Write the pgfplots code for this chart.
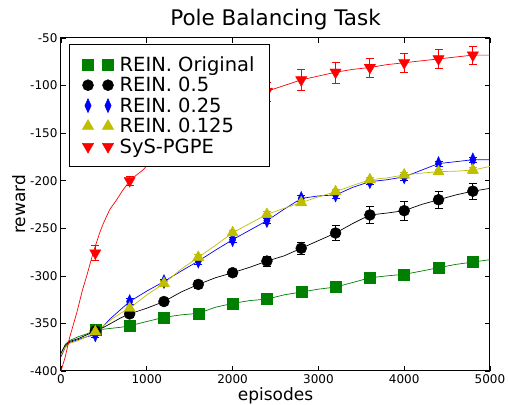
\documentclass[border=0pt]{standalone}
\usepackage{pgfplots}
\pgfplotsset{compat=1.18}
\usepackage{fontspec}
\setmainfont{DejaVu Sans}
\definecolor{mgreen}{rgb}{0,0.5,0}
\definecolor{myellow}{rgb}{0.75,0.75,0}
\begin{document}
\begin{tikzpicture}
\begin{axis}[
  scale only axis, width=429pt, height=333pt,
  xmin=0, xmax=5000, ymin=-400, ymax=-50,
  xtick={0,1000,2000,3000,4000,5000},
  ytick={-400,-350,-300,-250,-200,-150,-100,-50},
  /pgf/number format/assume math mode=true,
  /pgf/number format/1000 sep={},
  tick label style={font=\fontsize{12}{14}\selectfont},
  xlabel={episodes}, ylabel={reward},
  label style={font=\fontsize{17}{20}\selectfont},
  title={Pole Balancing Task},
  title style={font=\fontsize{21.5}{24}\selectfont, yshift=-2pt},
  tick align=inside, major tick length=5pt,
  axis line style={line width=1pt},
  every tick/.style={black, line width=0.6pt},
  xlabel style={yshift=3pt}, ylabel style={yshift=-2pt},
  legend style={at={(0.0186,0.982)}, anchor=north west, draw=black, line width=0.8pt,
    font=\fontsize{19.5}{22}\selectfont, fill=white, inner xsep=13pt, inner ysep=10pt, row sep=0.5pt,
    cells={anchor=west}},
  legend cell align=left,
  legend image code/.code={\draw[#1, line width=0.5pt] plot coordinates {(0pt,0pt) (20pt,0pt)};},
  error bars/y dir=both, error bars/y explicit,
]
% ---- green: REIN. Original
\addplot[mgreen, line width=0.7pt, forget plot] coordinates {
(0,-382)(50,-372)(100,-368)(200,-364)(300,-361)(400,-357)(500,-356)(600,-355)(700,-354)(800,-352.5)(1000,-348)(1200,-343.6)(1400,-341)(1600,-339.4)(1800,-333)(2000,-329)(2200,-326)(2400,-324.4)(2600,-320)(2800,-317)(3000,-314)(3200,-311.8)(3400,-307)(3600,-302)(3800,-300)(4000,-298.4)(4200,-295)(4400,-291.4)(4600,-288)(4800,-285.5)(5000,-283)};
\addplot[mgreen, only marks, mark=square*, mark size=5.5pt,
  error bars/error bar style={mgreen, line width=0.8pt}, error bars/error mark options={rotate=90, mark size=4pt, mgreen}]
coordinates {
(400,-357) +- (0,1.5) (800,-352.5) +- (0,1.5) (1200,-343.6) +- (0,1.5) (1600,-339.4) +- (0,1.5) (2000,-329) +- (0,1.5) (2400,-324.4) +- (0,1.5) (2800,-317) +- (0,1.5) (3200,-311.8) +- (0,1.5) (3600,-302) +- (0,1.5) (4000,-298.4) +- (0,1.5) (4400,-291.4) +- (0,1.5) (4800,-285.5) +- (0,1.5)};
\addlegendentry{\hspace{4pt}REIN. Original}
% ---- black: REIN. 0.5
\addplot[black, line width=0.7pt, forget plot] coordinates {
(0,-381)(50,-373)(100,-369)(200,-366)(300,-362)(400,-358)(500,-354)(600,-349)(700,-344)(800,-340)(1000,-334)(1200,-327)(1400,-317)(1600,-309)(1800,-302)(2000,-296.7)(2200,-291)(2400,-284.5)(2600,-279)(2800,-271)(3000,-263)(3200,-255)(3400,-245)(3600,-236)(3800,-234)(4000,-231.5)(4200,-225)(4400,-220)(4600,-215)(4800,-211)(5000,-208)};
\addplot[black, only marks, mark=*, mark size=5.5pt,
  error bars/error bar style={black, line width=0.8pt}, error bars/error mark options={rotate=90, mark size=4pt, black}]
coordinates {
(400,-358) +- (0,2) (800,-340) +- (0,3) (1200,-327) +- (0,3) (1600,-309) +- (0,4) (2000,-296.7) +- (0,4) (2400,-284.5) +- (0,5) (2800,-271) +- (0,6) (3200,-255) +- (0,8) (3600,-236) +- (0,9) (4000,-231.5) +- (0,9.5) (4400,-220) +- (0,9) (4800,-211) +- (0,8)};
\addlegendentry{\hspace{4pt}REIN. 0.5}
% ---- blue: REIN. 0.25
\addplot[blue, line width=0.7pt, forget plot] coordinates {
(0,-385)(50,-375)(100,-370)(200,-367)(300,-364)(400,-362)(500,-352)(600,-343)(700,-335)(800,-327)(1000,-316)(1200,-306)(1400,-295)(1600,-284.5)(1800,-273)(2000,-262)(2200,-252)(2400,-242)(2600,-230)(2800,-218.6)(3000,-216)(3200,-215)(3400,-207)(3600,-201)(3800,-199)(4000,-196)(4200,-189)(4400,-182)(4600,-180)(4800,-178)(5000,-178)};
\addplot[blue, only marks, mark=diamond*, mark size=7pt, mark options={xscale=0.6},
  error bars/error bar style={blue, line width=0.8pt}, error bars/error mark options={rotate=90, mark size=4pt, blue}]
coordinates {
(400,-362) +- (0,3) (800,-327) +- (0,3) (1200,-306) +- (0,3) (1600,-284.5) +- (0,3) (2000,-262) +- (0,3) (2400,-242) +- (0,3) (2800,-218.6) +- (0,3) (3200,-215) +- (0,3) (3600,-201) +- (0,3) (4000,-196) +- (0,3) (4400,-182) +- (0,3) (4800,-178) +- (0,3)};
\addlegendentry{\hspace{4pt}REIN. 0.25}
% ---- yellow: REIN. 0.125
\addplot[myellow, line width=0.7pt, forget plot] coordinates {
(0,-383)(50,-375)(100,-371)(200,-368)(300,-364)(400,-358.8)(500,-352)(600,-345)(700,-339)(800,-334)(1000,-320)(1200,-308)(1400,-293)(1600,-280.6)(1800,-268)(2000,-254.7)(2200,-245)(2400,-235.4)(2600,-229)(2800,-223)(3000,-217)(3200,-211.6)(3400,-205)(3600,-199)(3800,-197)(4000,-194)(4200,-192)(4400,-190.5)(4600,-190)(4800,-188.8)(5000,-185)};
\addplot[myellow, only marks, mark=triangle*, mark size=6.5pt,
  error bars/error bar style={myellow, line width=0.8pt}, error bars/error mark options={rotate=90, mark size=4pt, myellow}]
coordinates {
(400,-358.8) +- (0,3) (800,-334) +- (0,3) (1200,-308) +- (0,3) (1600,-280.6) +- (0,3) (2000,-254.7) +- (0,3) (2400,-235.4) +- (0,3) (2800,-223) +- (0,3) (3200,-211.6) +- (0,3) (3600,-199) +- (0,3) (4000,-194) +- (0,3) (4400,-190.5) +- (0,3) (4800,-188.8) +- (0,3)};
\addlegendentry{\hspace{4pt}REIN. 0.125}
% ---- red: SyS-PGPE
\addplot[red, line width=0.7pt, forget plot] coordinates {
(0,-400)(50,-385)(100,-365)(183,-339)(250,-315)(300,-300)(377,-275)(450,-255)(493,-245)(570,-230)(649,-220)(720,-210)(804,-200)(880,-194)(952,-189)(1200,-165)(1600,-140)(2000,-120)(2400,-106)(2600,-100)(2800,-94)(3000,-90)(3200,-86)(3400,-83)(3600,-81)(3800,-78)(4000,-76)(4200,-74)(4400,-72)(4600,-70)(4800,-68)(5000,-68)};
\addplot[red, only marks, mark=triangle*, mark size=6.5pt, mark options={rotate=180},
  error bars/error bar style={red, line width=0.8pt}, error bars/error mark options={rotate=90, mark size=4pt, red}]
coordinates {
(400,-276) +- (0,8) (800,-200) +- (0,5) (1200,-165) +- (0,6) (1600,-140) +- (0,8) (2000,-120) +- (0,9) (2400,-106) +- (0,10) (2800,-94) +- (0,11) (3200,-86) +- (0,11) (3600,-81) +- (0,10) (4000,-76) +- (0,10) (4400,-72) +- (0,10) (4800,-68) +- (0,9.5)};
\addlegendentry{\hspace{4pt}SyS-PGPE}
\end{axis}
\pgfresetboundingbox
\path[use as bounding box] ([shift={(-61pt,-34pt)}]current axis.south west) rectangle ([shift={(18pt,38pt)}]current axis.north east);
\end{tikzpicture}
\end{document}
